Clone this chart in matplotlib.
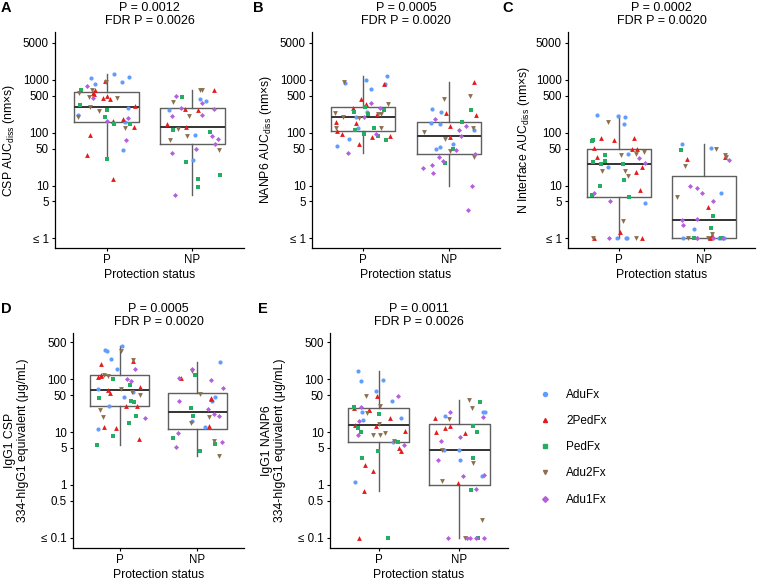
import numpy as np
import matplotlib
matplotlib.use("Agg")
import matplotlib.pyplot as plt
from matplotlib.cbook import boxplot_stats
from matplotlib.lines import Line2D

plt.rcParams['font.family'] = ['Liberation Sans', 'DejaVu Sans']
plt.rcParams['mathtext.fontset'] = 'custom'
plt.rcParams['mathtext.rm'] = 'Liberation Sans'

# groups, in legend order
groups = ["AduFx", "2PedFx", "PedFx", "Adu2Fx", "Adu1Fx"]
colors = ["#619CFF", "#E41A1C", "#25AE63", "#8B6F4E", "#B35FDE"]
markers = ["o", "^", "s", "v", "D"]
msizes = [9, 12, 8, 12, 6.5]
status = ["P", "NP"]

# A: CSP AUCdiss
csp_auc_P = {
    "AduFx": [1260, 1140, 890, 1075, 840, 290, 213, 156, 46],
    "2PedFx": [930, 650, 545, 560, 460, 490, 430, 313, 183, 163, 128, 89, 37, 13.5],
    "PedFx": [630, 325, 265, 198, 148, 144, 32],
    "Adu2Fx": [915, 650, 550, 470, 458, 305, 256, 198, 120],
    "Adu1Fx": [750, 455, 192, 166, 72],
}
csp_auc_NP = {
    "AduFx": [435, 395, 265, 89, 30],
    "2PedFx": [630, 280, 270, 144, 128],
    "PedFx": [470, 110, 102, 28, 15.5, 13.5, 9.4],
    "Adu2Fx": [630, 630, 375, 206, 116, 85, 72, 47],
    "Adu1Fx": [500, 355, 290, 280, 213, 205, 86, 77, 62, 50, 42, 6.6],
}

# B: NANP6 AUCdiss
nanp_auc_P = {
    "AduFx": [1170, 970, 880, 840, 675, 245, 198, 124, 77, 55],
    "2PedFx": [830, 425, 342, 288, 228, 159, 152, 107, 96, 88, 83, 60],
    "PedFx": [300, 270, 250, 228, 120, 110, 93, 86, 72],
    "Adu2Fx": [890, 345, 236, 228, 228, 198, 186, 120, 120],
    "Adu1Fx": [360, 295, 198, 96, 41],
}
nanp_auc_NP = {
    "AduFx": [280, 245, 155, 148, 110, 62, 54, 49],
    "2PedFx": [905, 236, 218, 132, 83],
    "PedFx": [265, 158, 49, 27],
    "Adu2Fx": [500, 435, 120, 102, 75, 45, 35],
    "Adu1Fx": [177, 132, 114, 87, 46, 39, 34, 29.5, 24, 21, 17.5, 10, 3.5],
}

# C: N interface AUCdiss (1 = at or below detection)
nint_auc_P = {
    "AduFx": [215, 198, 206, 145, 40, 22, 4.6, 1, 1, 1],
    "2PedFx": [79, 51, 72, 79, 49, 50, 34, 22, 18, 8.3, 1.3, 1, 1],
    "PedFx": [72, 70, 37, 29.5, 26, 26, 27.5, 12.5, 9.7, 6.1, 6.5],
    "Adu2Fx": [156, 43, 37, 40, 15, 19, 19, 2.15, 1, 1],
    "Adu1Fx": [27, 33, 7.3, 5, 1],
}
nint_auc_NP = {
    "AduFx": [61, 51, 7.3, 1.5, 1, 1, 1, 1],
    "2PedFx": [35, 32, 4, 1.15, 1],
    "PedFx": [47, 2.7, 1.6, 1, 1, 1],
    "Adu2Fx": [49, 37, 35, 23, 6.0, 1.2, 1, 1],
    "Adu1Fx": [31, 9.1, 9.8, 7.1, 5, 2.2, 2.3, 1.8, 1, 1, 1, 1],
}

# D: IgG1 CSP (ug/mL)
igg_csp_P = {
    "AduFx": [425, 353, 333, 240, 155, 66, 58, 46, 31.5, 11.5],
    "2PedFx": [215, 195, 119, 112, 108, 70, 61, 54, 31.5, 31, 12.3, 12, 7.4],
    "PedFx": [100, 78, 43, 39, 37, 20, 14.8, 8.3, 5.6],
    "Adu2Fx": [333, 230, 120, 115, 65, 56, 49, 26, 19],
    "Adu1Fx": [156, 100, 91, 18.3],
}
igg_csp_NP = {
    "AduFx": [212, 46, 38, 16, 12.3],
    "2PedFx": [105, 43, 42, 13.2],
    "PedFx": [119, 28, 20, 7.8, 5.9, 4.4],
    "Adu2Fx": [140, 52, 19, 14.8, 6.9, 3.5],
    "Adu1Fx": [157, 105, 97, 68, 39, 27, 21.5, 20, 9.4, 5.3, 6.5],
}

# E: IgG1 NANP6 (ug/mL, 0.1 = at or below detection)
igg_nanp_P = {
    "AduFx": [145, 92, 95, 60, 38, 24, 18.3, 17, 6.4, 1.15],
    "2PedFx": [47, 28, 26, 26, 18.3, 13.2, 13.8, 10.6, 5, 4.3, 2.4, 1.8, 0.78, 0.1],
    "PedFx": [29.5, 22, 12, 10, 6.6, 4.3, 3.2, 0.1],
    "Adu2Fx": [47, 31, 23, 14, 9.6, 8.7, 8.7, 6.9],
    "Adu1Fx": [47, 29.5, 16.4, 8.7, 5.6],
}
igg_nanp_NP = {
    "AduFx": [24, 20, 23.5, 4.5, 3, 4.5, 1.45],
    "2PedFx": [18.3, 13, 9.6, 10, 12, 1.07],
    "PedFx": [37, 13, 9.8, 3.3, 0.79, 0.1],
    "Adu2Fx": [40, 28, 18, 4.6, 2.6, 1.17, 0.22, 0.1],
    "Adu1Fx": [23.5, 19, 6.9, 8, 3, 1.55, 1.5, 0.83, 0.1, 0.1, 0.1, 0.1, 0.1],
}

p_values = ["P = 0.0012\nFDR P = 0.0026", "P = 0.0005\nFDR P = 0.0020",
            "P = 0.0002\nFDR P = 0.0020", "P = 0.0005\nFDR P = 0.0020",
            "P = 0.0011\nFDR P = 0.0026"]
ylabels = [r"CSP AUC$_{\mathrm{diss}}$ (nm×s)", r"NANP6 AUC$_{\mathrm{diss}}$ (nm×s)",
           r"N Interface AUC$_{\mathrm{diss}}$ (nm×s)",
           "IgG1 CSP\n334-hIgG1 equivalent (μg/mL)",
           "IgG1 NANP6\n334-hIgG1 equivalent (μg/mL)"]
letters = ["A", "B", "C", "D", "E"]

top_ticks = [1, 5, 10, 50, 100, 500, 1000, 5000]
top_labels = ["≤ 1", "5", "10", "50", "100", "500", "1000", "5000"]
bot_ticks = [0.1, 0.5, 1, 5, 10, 50, 100, 500]
bot_labels = ["≤ 0.1", "0.5", "1", "5", "10", "50", "100", "500"]

panels = [(csp_auc_P, csp_auc_NP), (nanp_auc_P, nanp_auc_NP), (nint_auc_P, nint_auc_NP),
          (igg_csp_P, igg_csp_NP), (igg_nanp_P, igg_nanp_NP)]

# axes boxes in pixels (left, top, right, bottom) of a 758x581 figure
W, H = 758, 581
boxes = [(55, 32, 244, 248), (312, 32, 500, 248), (568, 32, 755, 248),
         (73, 333, 244, 548), (330, 333, 508, 548)]
label_x = [-0.20, -0.20, -0.195, -0.255, -0.245]
letter_x = [1, 253, 502, 1, 258]

fig = plt.figure(figsize=(7.58, 5.81), dpi=100)
rng = np.random.default_rng(7)

for i, (pdat, npdat) in enumerate(panels):
    l, t, r, b = boxes[i]
    ax = fig.add_axes([l / W, 1 - b / H, (r - l) / W, (b - t) / H])
    ax.set_yscale("log")

    # boxplots, stats on log10 scale like ggplot
    stats = []
    for d in (pdat, npdat):
        vals = np.log10(np.concatenate([d[g] for g in groups]))
        s = boxplot_stats(vals)[0]
        for k in ("med", "q1", "q3", "whislo", "whishi", "mean"):
            s[k] = 10 ** s[k]
        s["fliers"] = []
        stats.append(s)
    ax.bxp(stats, positions=[1, 2], widths=0.75, showfliers=False, showcaps=False,
           boxprops=dict(color="#5f5f5f", lw=1.0),
           whiskerprops=dict(color="#5f5f5f", lw=1.0),
           medianprops=dict(color="#333333", lw=1.4), zorder=2)

    for x0, d in zip([1, 2], (pdat, npdat)):
        for g, c, m, s in zip(groups, colors, markers, msizes):
            v = np.array(d[g])
            jit = rng.uniform(-0.33, 0.33, len(v))
            ax.scatter(x0 + jit, v, s=s, c=c, marker=m, lw=0, zorder=3)

    if i < 3:
        ax.set_ylim(10 ** -0.18, 10 ** 3.9)
        ax.set_yticks(top_ticks, top_labels)
    else:
        ax.set_ylim(10 ** -1.19, 10 ** 2.87)
        ax.set_yticks(bot_ticks, bot_labels)
    ax.minorticks_off()
    ax.set_xlim(0.4, 2.6)
    ax.set_xticks([1, 2], status)
    ax.spines[["top", "right"]].set_visible(False)
    ax.spines[["left", "bottom"]].set_linewidth(0.9)
    ax.tick_params(labelsize=8.3, length=2.5, width=0.8, pad=2)
    ax.set_xlabel("Protection status", fontsize=8.8, labelpad=2)
    ax.set_ylabel(ylabels[i], fontsize=8.8)
    ax.yaxis.set_label_coords(label_x[i], 0.5)
    ax.set_title(p_values[i], fontsize=9, linespacing=1.05, pad=6)

    fig.text(letter_x[i] / W, 1 - (t - 31) / H, letters[i],
             fontsize=10.5, fontweight="bold", va="top", ha="left")

handles = [Line2D([], [], ls="", marker=m, color=c, markersize=2.9)
           for m, c in zip(markers, colors)]
fig.legend(handles, groups, loc="upper left", bbox_to_anchor=(539 / W, 1 - 389 / H),
           frameon=False, fontsize=8.5, handlelength=1.0, handletextpad=1.3,
           labelspacing=1.2, borderpad=0, borderaxespad=0)

fig.savefig("out.png", dpi=100)
